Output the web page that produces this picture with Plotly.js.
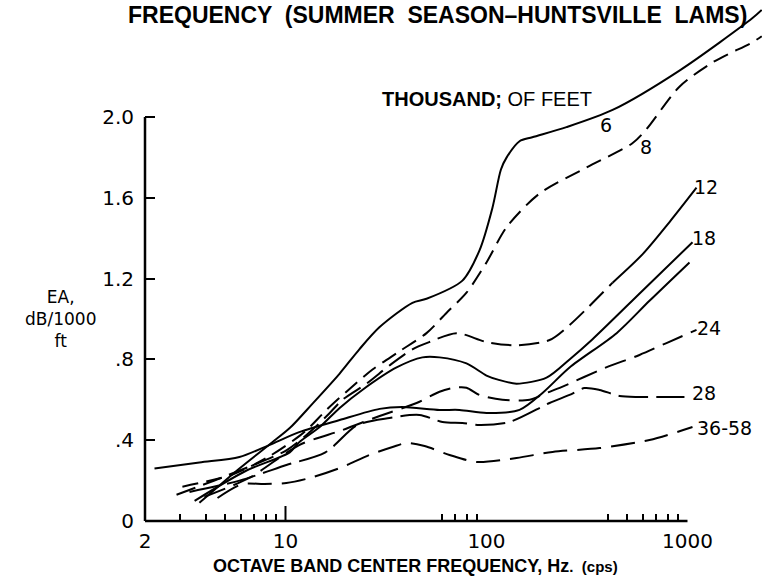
<!DOCTYPE html>
<html>
<head>
<meta charset="utf-8">
<script src="https://cdn.plot.ly/plotly-3.0.1.min.js"></script>
<style>html,body{margin:0;padding:0;background:#fff;}#chart{width:762px;height:583px;}</style>
</head>
<body>
<div id="chart"></div>
<script>
// ---- data ----
const freq6  = [3.73, 5.9, 8.6, 10.5, 13.6, 18.6, 23.3, 29.4, 42.8, 50.3, 75.9, 92.3, 107, 118, 126, 146, 169, 250, 424, 912, 2106, 2340];
const ea6    = [0.09, 0.26, 0.39, 0.46, 0.58, 0.73, 0.85, 0.96, 1.08, 1.10, 1.19, 1.34, 1.55, 1.74, 1.80, 1.88, 1.90, 1.95, 2.035, 2.23, 2.49, 2.53];

const freq8  = [3.07, 5.45, 8.3, 11.7, 13.2, 16.0, 20.1, 27.1, 36.9, 50.3, 63.2, 79.5, 100, 126, 183, 314, 532, 625, 912, 1332, 2106, 2340];
const ea8    = [0.17, 0.23, 0.32, 0.42, 0.465, 0.55, 0.64, 0.75, 0.84, 0.93, 1.03, 1.13, 1.28, 1.455, 1.62, 1.75, 1.87, 1.94, 2.15, 2.27, 2.37, 2.40];

const freq12 = [2.87, 5.27, 10.1, 13.2, 16.6, 19.2, 25.3, 32.9, 42.8, 52.0, 70.9, 100, 141, 206, 259, 424, 597, 814, 1109];
const ea12   = [0.13, 0.23, 0.35, 0.44, 0.535, 0.60, 0.68, 0.77, 0.85, 0.886, 0.93, 0.886, 0.87, 0.896, 0.97, 1.18, 1.32, 1.48, 1.65];

const freq18 = [3.53, 6.4, 10.5, 11.7, 14.8, 18.6, 24.2, 35.7, 48.0, 58.4, 79.5, 100, 114, 141, 199, 259, 337, 597, 1059];
const ea18   = [0.10, 0.25, 0.34, 0.39, 0.465, 0.56, 0.65, 0.76, 0.81, 0.81, 0.78, 0.72, 0.70, 0.68, 0.71, 0.80, 0.90, 1.14, 1.38];

const freqE  = [2.23, 3.73, 5.9, 8.3, 11.7, 18.6, 29.4, 38, 58.4, 73.4, 100, 146, 190, 259, 444, 647, 1023];
const eaE    = [0.26, 0.29, 0.317, 0.376, 0.44, 0.50, 0.555, 0.564, 0.55, 0.55, 0.535, 0.55, 0.634, 0.76, 0.93, 1.09, 1.28];

const freq24 = [3.95, 6.6, 11.7, 19.2, 29.4, 44.9, 58.4, 69.3, 79.5, 92.3, 120, 164, 199, 236, 386, 577, 786, 1109];
const ea24   = [0.12, 0.213, 0.376, 0.45, 0.52, 0.584, 0.64, 0.66, 0.66, 0.624, 0.60, 0.60, 0.634, 0.663, 0.757, 0.822, 0.881, 0.946];

const freq28 = [3.33, 5.9, 10.1, 15.8, 22.8, 32.9, 46.4, 60.4, 75.9, 92.3, 130, 206, 259, 307, 365, 459, 577, 966];
const ea28   = [0.144, 0.20, 0.277, 0.34, 0.475, 0.51, 0.525, 0.49, 0.485, 0.475, 0.49, 0.584, 0.624, 0.658, 0.649, 0.619, 0.614, 0.614];

const freq3658 = [4.59, 6.11, 7.86, 10.1, 13.2, 18.6, 26.2, 34.1, 40, 49.2, 65.5, 89.2, 141, 213, 365, 647, 1059];
const ea3658   = [0.114, 0.183, 0.183, 0.188, 0.213, 0.262, 0.327, 0.366, 0.386, 0.371, 0.327, 0.292, 0.312, 0.342, 0.361, 0.401, 0.465];

const yTickVals = [0, 0.4, 0.8, 1.2, 1.6, 2.0];
const yTickText = ['0', '.4', '.8', '1.2', '1.6', '2.0'];
const xTickVals = [2, 10, 100, 1000];
const xTickText = ['2', '10', '100', '1000'];
const xMinorVals = [3, 4, 5, 6, 7, 8, 9, 60, 70, 80, 90, 400, 500, 600, 700, 800, 900];

const curveLabels = [
  {text: '6', f: 395, v: 1.96},
  {text: '8', f: 625, v: 1.85},
  {text: '12', f: 1242, v: 1.653},
  {text: '18', f: 1213, v: 1.40},
  {text: '24', f: 1285, v: 0.955},
  {text: '28', f: 1213, v: 0.634},
  {text: '36-58', f: 1528, v: 0.46}
];

// ---- layout geometry ----
const W = 762, H = 583;
const mL = 145, mR = 0, mT = 0, mB = 62;
const decadePx = 201, unitPx = 202;
const xMin = Math.log10(2);
const xMax = xMin + (W - mL - mR) / decadePx;
const yMax = (H - mT - mB) / unitPx;
const px = f => (Math.log10(f) - xMin) / (xMax - xMin);
const py = v => v / yMax;

const LW = 2;
function tr(x, y, dash) {
  return {x: x, y: y, type: 'scatter', mode: 'lines', hoverinfo: 'skip',
          line: {color: '#000', width: LW, dash: dash, shape: 'spline', smoothing: 0.8}};
}
const split12 = 15;
const traces = [
  tr(freq6, ea6, 'solid'),
  tr(freq8, ea8, '16px,8px'),
  tr(freq12.slice(0, split12 + 1), ea12.slice(0, split12 + 1), '20px,8px'),
  tr(freq12.slice(split12), ea12.slice(split12), 'solid'),
  tr(freq18, ea18, 'solid'),
  tr(freqE, eaE, 'solid'),
  tr(freq24, ea24, '22px,9px'),
  tr(freq28, ea28, '30px,8px'),
  tr(freq3658, ea3658, '24px,10px')
];

const labelFont = {family: 'DejaVu Sans, sans-serif', size: 19, color: '#000'};
const annotations = curveLabels.map(l => ({
  xref: 'paper', yref: 'paper', x: px(l.f), y: py(l.v), text: l.text,
  showarrow: false, xanchor: 'center', yanchor: 'middle', font: labelFont
}));
annotations.push({
  xref: 'paper', yref: 'paper', x: px(29.4), y: py(2.09),
  text: '<b>THOUSAND;</b> OF FEET', showarrow: false, xanchor: 'left', yanchor: 'middle',
  font: {family: 'Liberation Sans, Arial, sans-serif', size: 20, color: '#000'}
});
annotations.push({
  xref: 'paper', yref: 'paper', x: (60 - mL) / (W - mL - mR), y: py(1.0),
  text: 'EA,<br>dB/1000<br>ft', showarrow: false, xanchor: 'center', yanchor: 'middle', align: 'center',
  font: {family: 'DejaVu Sans, sans-serif', size: 17, color: '#000'}
});
annotations.push({
  xref: 'paper', yref: 'paper', x: (415 - mL) / (W - mL - mR), y: -(566 - (H - mB)) / (H - mT - mB),
  text: '<b>OCTAVE BAND CENTER FREQUENCY, Hz<span style="font-size:15px">.  (cps)</span></b>',
  showarrow: false, xanchor: 'center', yanchor: 'middle',
  font: {family: 'Liberation Sans, Arial, sans-serif', size: 18, color: '#000'}
});
annotations.push({
  xref: 'paper', yref: 'paper', x: (437 - mL) / (W - mL - mR), y: 1, 
  text: '<b>FREQUENCY  (SUMMER  SEASON–HUNTSVILLE  LAMS)</b>',
  showarrow: false, xanchor: 'center', yanchor: 'top',
  font: {family: 'Liberation Sans, Arial, sans-serif', size: 23, color: '#000'}
});

const shapes = [
  {type: 'line', xref: 'paper', yref: 'paper', x0: 0, x1: 0, y0: 0, y1: py(2.0), line: {color: '#000', width: 2.5}},
  {type: 'line', xref: 'paper', yref: 'paper', x0: 0, x1: px(1000), y0: 0, y1: 0, line: {color: '#000', width: 2.5}},
  {type: 'line', xref: 'paper', yref: 'paper', x0: px(10), x1: px(10), y0: 0, y1: 15 / (H - mT - mB), line: {color: '#000', width: 2}}
];

const layout = {
  width: W, height: H,
  margin: {l: mL, r: mR, t: mT, b: mB, pad: 0},
  paper_bgcolor: '#fff', plot_bgcolor: '#fff',
  showlegend: false,
  font: {family: 'DejaVu Sans, sans-serif', color: '#000'},
  xaxis: {
    type: 'log', range: [xMin, xMax], showgrid: false, zeroline: false, showline: false,
    tickmode: 'array', tickvals: xTickVals, ticktext: xTickText, ticks: '', ticklabelstandoff: 6,
    tickfont: {family: 'DejaVu Sans, sans-serif', size: 20, color: '#000'},
    minor: {tickmode: 'array', tickvals: xMinorVals, ticks: 'inside', ticklen: 7, tickwidth: 2, tickcolor: '#000', showgrid: false}
  },
  yaxis: {
    range: [0, yMax], showgrid: false, zeroline: false, showline: false,
    tickmode: 'array', tickvals: yTickVals, ticktext: yTickText,
    ticks: 'inside', ticklen: 10, tickwidth: 2, tickcolor: '#000', ticklabelstandoff: 10,
    tickfont: {family: 'DejaVu Sans, sans-serif', size: 20, color: '#000'}
  },
  annotations: annotations,
  shapes: shapes
};

Plotly.newPlot('chart', traces, layout, {staticPlot: true, displayModeBar: false});
</script>
</body>
</html>
